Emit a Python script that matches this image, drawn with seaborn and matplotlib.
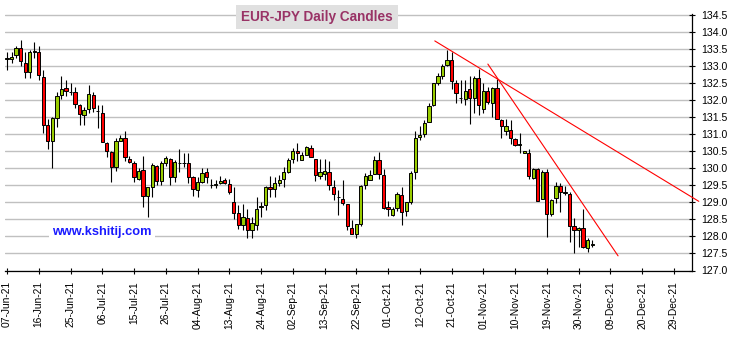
import matplotlib
matplotlib.use("Agg")
import matplotlib.pyplot as plt
from matplotlib.patches import Rectangle
import numpy as np
import pandas as pd
import seaborn as sns

# ---------------- data ----------------
opens = [133.22, 133.21, 133.33, 133.52, 133.10, 132.82, 133.42, 133.40, 132.68, 131.27,
         130.80, 131.48, 132.15, 132.36, 132.24, 132.23, 131.86, 131.56, 131.74, 132.15,
         131.67, 131.62, 130.74, 130.47, 130.03, 130.80, 130.89, 130.27, 130.15, 129.68,
         129.95, 129.20, 129.46, 130.07, 129.64, 130.16, 130.27, 129.74, 130.16, 130.16,
         130.15, 129.74, 129.36, 129.60, 129.88, 129.52, 129.52, 129.56, 129.65, 129.53,
         129.00, 128.68, 128.35, 128.53, 128.20, 128.33, 128.87, 128.91, 129.44, 129.38,
         129.56, 129.68, 129.90, 130.27, 130.52, 130.25, 130.40, 130.59, 130.28, 129.77,
         129.82, 129.90, 129.46, 129.16, 129.10, 128.96, 128.25, 128.08, 128.37, 129.50,
         129.67, 129.82, 130.24, 129.80, 128.87, 128.64, 128.84, 129.23, 128.74, 129.00,
         129.89, 130.93, 131.00, 131.37, 131.85, 132.50, 132.72, 133.03, 133.19, 132.50,
         132.06, 132.03, 132.32, 132.06, 132.65, 131.73, 132.28, 131.93, 132.35, 131.42,
         131.10, 131.13, 130.86, 130.69, 130.44, 130.44, 129.71, 129.97, 129.09, 129.90,
         128.65, 129.12, 129.48, 129.28, 129.24, 128.30, 128.19, 128.24, 127.65, 127.76]
highs = [133.40, 133.42, 133.60, 133.78, 133.42, 133.46, 133.70, 133.60, 132.90, 131.45,
         131.50, 132.25, 132.70, 132.60, 132.50, 132.40, 131.90, 131.80, 132.46, 132.25,
         131.87, 131.87, 130.76, 130.52, 130.90, 130.98, 131.10, 130.35, 130.20, 130.00,
         130.35, 129.46, 130.15, 130.10, 130.20, 130.37, 130.30, 130.25, 130.56, 130.44,
         130.44, 129.77, 129.75, 130.00, 130.00, 129.70, 129.66, 129.77, 129.72, 129.70,
         129.46, 128.92, 128.95, 128.82, 128.58, 129.15, 129.02, 129.48, 129.77, 129.74,
         129.80, 130.05, 130.30, 130.60, 130.74, 130.49, 130.66, 130.69, 130.28, 130.26,
         130.26, 130.22, 129.66, 129.36, 129.66, 128.96, 128.47, 128.37, 129.50, 129.86,
         129.96, 130.35, 130.48, 129.99, 129.04, 128.86, 129.30, 129.45, 129.00, 129.91,
         131.10, 131.25, 131.42, 131.91, 132.50, 132.80, 133.07, 133.48, 133.40, 132.60,
         132.60, 132.60, 132.70, 132.72, 132.91, 132.50, 132.40, 132.40, 132.62, 131.44,
         131.44, 131.42, 130.90, 131.03, 130.52, 130.56, 130.00, 130.02, 129.95, 129.97,
         129.10, 129.60, 129.56, 129.48, 129.31, 128.53, 128.28, 128.82, 127.94, 127.89]
lows = [132.90, 133.10, 133.25, 133.00, 132.65, 132.65, 133.23, 132.60, 131.03, 130.58,
        130.02, 131.20, 132.04, 132.13, 132.14, 131.77, 131.26, 131.26, 131.62, 131.64,
        131.17, 130.76, 130.33, 129.60, 129.93, 130.80, 130.20, 130.15, 129.60, 129.66,
        128.87, 128.58, 129.17, 129.50, 129.50, 130.07, 129.50, 129.60, 129.90, 130.05,
        129.58, 129.19, 129.15, 129.58, 129.56, 129.41, 129.42, 129.55, 129.54, 129.26,
        128.50, 128.23, 128.19, 127.94, 127.94, 128.19, 128.58, 128.77, 129.17, 129.15,
        129.48, 129.46, 129.85, 130.15, 130.20, 130.25, 130.40, 130.32, 129.64, 129.70,
        129.66, 129.36, 129.07, 128.63, 128.92, 128.18, 128.08, 127.96, 128.32, 129.40,
        129.67, 129.82, 129.70, 128.81, 128.59, 128.59, 128.74, 128.34, 128.59, 128.96,
        129.70, 130.83, 130.93, 131.37, 131.83, 132.45, 132.62, 133.01, 132.32, 131.93,
        131.91, 131.86, 131.30, 131.62, 131.57, 131.62, 131.90, 131.52, 131.44, 130.88,
        130.98, 130.72, 130.65, 130.44, 130.44, 129.70, 129.70, 129.04, 129.09, 127.99,
        128.60, 128.97, 128.73, 129.22, 127.84, 127.52, 127.70, 127.65, 127.55, 127.70]
closes = [133.22, 133.27, 133.52, 133.15, 132.82, 133.42, 133.43, 132.74, 131.27, 130.80,
          131.48, 132.13, 132.33, 132.27, 132.23, 131.90, 131.60, 131.72, 132.17, 131.77,
          131.68, 130.76, 130.50, 130.03, 130.80, 130.89, 130.33, 130.18, 129.74, 129.92,
          129.20, 129.46, 130.09, 129.64, 130.16, 130.30, 129.74, 130.18, 130.17, 130.16,
          129.75, 129.38, 129.60, 129.87, 129.74, 129.52, 129.53, 129.62, 129.56, 129.30,
          128.70, 128.35, 128.56, 128.20, 128.38, 128.82, 128.88, 129.44, 129.38, 129.58,
          129.66, 129.88, 130.23, 130.52, 130.44, 130.38, 130.62, 130.32, 129.80, 129.88,
          129.93, 129.50, 129.25, 129.17, 128.97, 128.32, 128.08, 128.37, 129.47, 129.76,
          129.80, 130.25, 129.82, 128.84, 128.81, 128.81, 129.25, 128.72, 129.00, 129.86,
          130.90, 130.99, 131.32, 131.83, 132.50, 132.70, 133.01, 133.19, 132.55, 132.20,
          132.07, 132.28, 132.06, 132.65, 131.86, 132.28, 131.96, 132.35, 131.44, 131.25,
          131.23, 130.88, 130.69, 130.70, 130.51, 129.77, 129.97, 129.04, 129.90, 128.65,
          129.07, 129.48, 129.31, 129.29, 128.30, 128.19, 128.26, 127.68, 127.90, 127.77]

tick_labels = ['07-Jun-21', '16-Jun-21', '25-Jun-21', '06-Jul-21', '15-Jul-21', '26-Jul-21',
               '04-Aug-21', '13-Aug-21', '24-Aug-21', '02-Sep-21', '13-Sep-21', '22-Sep-21',
               '01-Oct-21', '12-Oct-21', '21-Oct-21', '01-Nov-21', '10-Nov-21', '19-Nov-21',
               '30-Nov-21', '09-Dec-21', '20-Dec-21', '29-Dec-21']
tick_step = 7  # trading days between labels

# trend lines (trading-day index, price)
trend1_x = [94.3, 152.5]
trend1_y = [133.74, 129.03]
trend2_x = [106.0, 134.7]
trend2_y = [133.06, 127.43]

title_text = "EUR-JPY Daily Candles"
watermark = "www.kshitij.com"

# ---------------- figure ----------------
sns.set_style("white")
plt.rcParams['font.family'] = ['Liberation Sans', 'DejaVu Sans']

W, H = 733, 337
fig = plt.figure(figsize=(W / 100, H / 100), dpi=100)
ax_left, ax_right, ax_top, ax_bottom = 5, 692, 14, 270.5
ax = fig.add_axes([ax_left / W, (H - ax_bottom) / H,
                   (ax_right - ax_left) / W, (ax_bottom - ax_top) / H])

df = pd.DataFrame({"open": opens, "high": highs, "low": lows, "close": closes})
df["x"] = np.arange(len(df))
df["up"] = df["close"] >= df["open"]

GREEN = "#99cc00"
RED = "#ff0000"

# wicks
ax.vlines(df["x"], df["low"], df["high"], color="black", lw=0.8, zorder=3)
# bodies
body_bottom = np.minimum(df["open"], df["close"])
body_h = np.maximum(np.abs(df["close"] - df["open"]), 0.004)
colors = [GREEN if u else RED for u in df["up"]]
ax.bar(df["x"], body_h, bottom=body_bottom, width=0.72, color=colors,
       edgecolor="black", linewidth=0.7, zorder=4)

# trend lines
for tx, ty in [(trend1_x, trend1_y), (trend2_x, trend2_y)]:
    sns.lineplot(x=tx, y=ty, ax=ax, color="red", lw=0.8, sort=False)
for ln in ax.lines:
    ln.set_clip_on(False)
    ln.set_zorder(5)

# axes
ax.set_xlim(-0.44, 151.0)
ax.set_ylim(127.0, 134.53)
yt = np.arange(127.0, 134.51, 0.5)
ax.set_yticks(yt)
ax.set_yticklabels([f"{v:.1f}" for v in yt])
ax.yaxis.tick_right()
ax.grid(axis="y", color="#c0c0c0", lw=1.0, zorder=0)
ax.grid(axis="x", visible=False)
ax.set_axisbelow(True)

xt = np.arange(0, tick_step * len(tick_labels), tick_step)
ax.set_xticks(xt)
ax.set_xticklabels(tick_labels, rotation=90)

for s in ["left", "top"]:
    ax.spines[s].set_visible(False)
for s in ["right", "bottom"]:
    ax.spines[s].set_visible(True)
    ax.spines[s].set_color("black")
    ax.spines[s].set_linewidth(0.9)

ax.tick_params(axis="y", which="both", right=True, left=False, direction="inout",
               length=4.5, width=0.8, labelsize=7.6, pad=4.5, colors="black")
ax.tick_params(axis="x", which="both", bottom=True, direction="inout",
               length=4.5, width=0.8, labelsize=7.4, pad=5.5, colors="black")
ax.set_xlabel("")
ax.set_ylabel("")
ax.patch.set_facecolor("white")

# watermark
ax.text(0.141, 0.152, watermark, transform=ax.transAxes, ha="center", va="center",
        fontsize=9.2, fontweight="bold", color="#1a1aff", zorder=6,
        bbox=dict(facecolor="white", edgecolor="none", pad=2.5))

# title box
fig.patches.append(Rectangle((236 / W, 1 - 29 / H), (398 - 236) / W, 24 / H,
                             transform=fig.transFigure, facecolor="#e0e0e0",
                             edgecolor="none", zorder=10))
fig.text(317 / W, 1 - 17.5 / H, title_text, ha="center", va="center",
         fontsize=9.8, fontweight="bold", color="#993366", zorder=11)

fig.savefig("out.png", dpi=100)
